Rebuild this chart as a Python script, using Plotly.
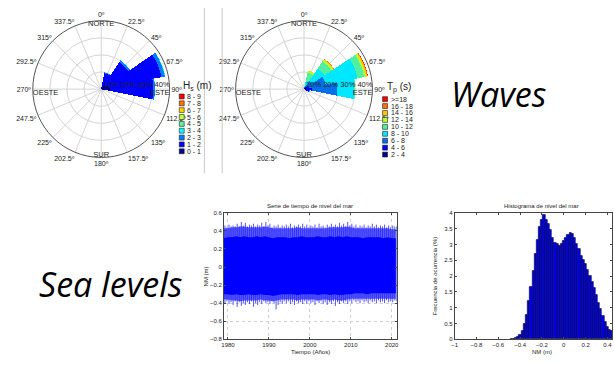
import plotly.graph_objects as go

W, H = 614, 376
def px(x): return x / W
def py(y): return 1 - y / H

FONT = "Liberation Sans"

# ---------------- Wave roses ----------------
directions = [0, 22.5, 45, 67.5, 90, 112.5]
angle_ticks = [0, 22.5, 45, 67.5, 90, 112.5, 135, 157.5, 180, 202.5, 225, 247.5, 270, 292.5, 315, 337.5]
angle_labels = ["0º", "22.5º", "45º", "67.5º", "90º", "112.5º", "135º", "157.5º", "180º",
                "202.5º", "225º", "247.5º", "270º", "292.5º", "315º", "337.5º"]
radial_ticks = [10, 20, 30, 40]
radial_labels = ["10%", "20%", "30%", "40%"]

hs_classes = ["0 - 1", "1 - 2", "2 - 3", "3 - 4", "4 - 5", "5 - 6", "6 - 7", "7 - 8", "8 - 9"]
hs_colors = ["#00008F", "#0000FF", "#0080FF", "#00FFFF", "#60F0A0", "#C0FF40", "#FFD000", "#FF7000", "#FF0000"]
hs_values = [
    [0.5, 2.0, 3.0, 4.0, 5.0, 0.8],
    [0.5, 7.5, 16.0, 32.0, 25.5, 0.5],
    [0.0, 0.5, 1.2, 2.0, 1.0, 0.0],
    [0.0, 0.0, 0.1, 0.3, 0.1, 0.0],
    [0, 0, 0, 0, 0, 0],
    [0, 0, 0, 0, 0, 0],
    [0, 0, 0, 0, 0, 0],
    [0, 0, 0, 0, 0, 0],
    [0, 0, 0, 0, 0, 0],
]

tp_classes = ["2 - 4", "4 - 6", "6 - 8", "8 - 10", "10 - 12", "12 - 14", "14 - 16", "16 - 18", ">=18"]
tp_colors = ["#00008F", "#0000FF", "#0070E8", "#00E8FF", "#50F0A0", "#B0FF30", "#FFC800", "#FF7000", "#FF0000"]
tp_values = [
    [0.0, 0.3, 0.5, 1.0, 1.5, 1.5],
    [0.0, 0.5, 1.0, 2.0, 3.0, 1.5],
    [0.2, 1.0, 4.0, 10.0, 15.0, 0.5],
    [0.5, 3.0, 9.0, 19.0, 10.0, 0.2],
    [1.0, 5.0, 5.0, 4.0, 0.5, 0.0],
    [0.5, 1.0, 1.0, 1.0, 0.0, 0.0],
    [0.0, 0.3, 0.5, 0.7, 0.0, 0.0],
    [0.0, 0.0, 0.3, 0.4, 0.0, 0.0],
    [0.0, 0.0, 0.0, 0.1, 0.0, 0.0],
]

cardinals = ["NORTE", "ESTE", "SUR", "OESTE"]

# ---------------- Sea level series ----------------
years = list(range(1979, 2022))
core_hi = [0.32, 0.33, 0.33, 0.34, 0.33, 0.34, 0.33, 0.33, 0.34, 0.33, 0.34, 0.33, 0.32, 0.33,
           0.33, 0.33, 0.32, 0.33, 0.33, 0.34, 0.33, 0.33, 0.33, 0.34, 0.33, 0.33, 0.34, 0.33,
           0.34, 0.33, 0.34, 0.33, 0.33, 0.33, 0.32, 0.33, 0.33, 0.33, 0.33, 0.32, 0.33, 0.32, 0.32]
core_lo = [-0.30, -0.30, -0.31, -0.30, -0.31, -0.31, -0.30, -0.31, -0.31, -0.30, -0.31, -0.31,
           -0.32, -0.31, -0.30, -0.30, -0.30, -0.30, -0.31, -0.30, -0.30, -0.30, -0.30, -0.31,
           -0.30, -0.30, -0.31, -0.30, -0.31, -0.31, -0.30, -0.30, -0.29, -0.29, -0.29, -0.30,
           -0.29, -0.29, -0.29, -0.29, -0.29, -0.29, -0.29]
fringe_hi = [0.43, 0.43, 0.44, 0.44, 0.45, 0.45, 0.44, 0.44, 0.44, 0.44, 0.45, 0.44, 0.43, 0.43,
             0.43, 0.43, 0.43, 0.43, 0.44, 0.43, 0.43, 0.43, 0.43, 0.43, 0.43, 0.43, 0.44, 0.44,
             0.44, 0.44, 0.45, 0.44, 0.43, 0.43, 0.43, 0.43, 0.43, 0.43, 0.43, 0.43, 0.43, 0.42, 0.42]
fringe_lo = [-0.36, -0.36, -0.37, -0.37, -0.38, -0.37, -0.37, -0.37, -0.37, -0.36, -0.37, -0.37,
             -0.38, -0.37, -0.36, -0.36, -0.36, -0.36, -0.37, -0.36, -0.36, -0.36, -0.36, -0.37,
             -0.36, -0.36, -0.37, -0.36, -0.37, -0.37, -0.36, -0.35, -0.35, -0.35, -0.35, -0.35,
             -0.35, -0.35, -0.35, -0.35, -0.35, -0.35, -0.35]
spike_start, spike_step = 1979.25, 0.5
nm_max = [0.46, 0.44, 0.47, 0.45, 0.46, 0.45, 0.48, 0.45, 0.50, 0.46,
          0.49, 0.45, 0.47, 0.46, 0.48, 0.45, 0.47, 0.46, 0.49, 0.45,
          0.50, 0.46, 0.48, 0.44, 0.46, 0.45, 0.47, 0.44, 0.46, 0.45,
          0.47, 0.45, 0.48, 0.44, 0.46, 0.45, 0.47, 0.45, 0.48, 0.45,
          0.47, 0.44, 0.46, 0.45, 0.47, 0.44, 0.48, 0.45, 0.46, 0.44,
          0.47, 0.45, 0.48, 0.45, 0.47, 0.45, 0.49, 0.46, 0.48, 0.45,
          0.50, 0.46, 0.48, 0.45, 0.47, 0.44, 0.46, 0.45, 0.47, 0.44,
          0.46, 0.45, 0.48, 0.45, 0.47, 0.44, 0.46, 0.45, 0.47, 0.44,
          0.46, 0.44, 0.46, 0.45, 0.45]
nm_min = [-0.40, -0.38, -0.41, -0.39, -0.42, -0.38, -0.44, -0.39, -0.43, -0.40,
          -0.42, -0.39, -0.41, -0.38, -0.44, -0.40, -0.42, -0.39, -0.41, -0.38,
          -0.40, -0.39, -0.41, -0.38, -0.40, -0.47, -0.42, -0.39, -0.41, -0.38,
          -0.40, -0.38, -0.41, -0.39, -0.42, -0.38, -0.40, -0.39, -0.41, -0.38,
          -0.41, -0.38, -0.40, -0.39, -0.42, -0.38, -0.40, -0.38, -0.41, -0.39,
          -0.42, -0.39, -0.41, -0.38, -0.43, -0.39, -0.41, -0.38, -0.40, -0.38,
          -0.41, -0.38, -0.40, -0.37, -0.39, -0.38, -0.40, -0.37, -0.39, -0.38,
          -0.40, -0.37, -0.39, -0.38, -0.40, -0.37, -0.39, -0.38, -0.40, -0.37,
          -0.39, -0.38, -0.39, -0.37, -0.38]
ts_xticks = [1980, 1990, 2000, 2010, 2020]
ts_yticks = [-0.8, -0.6, -0.4, -0.2, 0, 0.2, 0.4, 0.6]

# ---------------- Histogram ----------------
hist_start, hist_width = -0.48, 0.02
hist_freq = [0.01, 0.02, 0.04, 0.08, 0.15, 0.28, 0.50, 0.78, 1.22, 1.66, 2.15, 2.70, 3.14, 3.56,
             3.79, 3.93, 3.79, 3.65, 3.45, 3.20, 3.06, 3.01, 2.95, 3.02, 3.12, 3.22, 3.30, 3.36,
             3.33, 3.20, 3.02, 2.85, 2.65, 2.52, 2.40, 2.20, 2.00, 1.80, 1.62, 1.42, 1.15, 0.95,
             0.75, 0.55, 0.40, 0.30, 0.25]
hist_xticks = [-1, -0.8, -0.6, -0.4, -0.2, 0, 0.2, 0.4]
hist_yticks = [0, 0.5, 1, 1.5, 2, 2.5, 3, 3.5, 4]

fig = go.Figure()

# rose traces
for sub, classes, colors, values in [("polar", hs_classes, hs_colors, hs_values),
                                     ("polar2", tp_classes, tp_colors, tp_values)]:
    for cls, col, vals in zip(classes, colors, values):
        fig.add_trace(go.Barpolar(r=vals, theta=directions, width=[22.5] * len(directions),
                                  marker=dict(color=col, line=dict(width=0)),
                                  name=cls, subplot=sub, showlegend=False))
    fig.add_trace(go.Scatterpolar(r=radial_ticks, theta=[90] * 4, mode="text", text=radial_labels,
                                  textposition="top left", subplot=sub, showlegend=False,
                                  textfont=dict(family=FONT, size=7.5, color="#222")))
    fig.add_trace(go.Scatterpolar(r=[38.0, 38.6], theta=[0, 180], mode="text", text=[cardinals[0], cardinals[2]],
                                  textposition="middle center", subplot=sub, showlegend=False,
                                  textfont=dict(family=FONT, size=7.5, color="#222")))
    fig.add_trace(go.Scatterpolar(r=[40], theta=[90], mode="text", text=[cardinals[1]],
                                  textposition="bottom left", subplot=sub, showlegend=False,
                                  textfont=dict(family=FONT, size=7.5, color="#222")))
    fig.add_trace(go.Scatterpolar(r=[40], theta=[270], mode="text", text=[cardinals[3]],
                                  textposition="bottom right", subplot=sub, showlegend=False,
                                  textfont=dict(family=FONT, size=7.5, color="#222")))

polar_common = dict(
    bgcolor="white",
    barmode="stack",
    angularaxis=dict(rotation=90, direction="clockwise", tickmode="array", tickvals=angle_ticks,
                     ticktext=angle_labels, ticks="", showline=True, linecolor="#555", linewidth=1,
                     gridcolor="#d4d4d4", gridwidth=0.8, tickfont=dict(family=FONT, size=7, color="#222")),
    radialaxis=dict(range=[0, 40], tickvals=radial_ticks, showticklabels=False, ticks="",
                    showline=False, gridcolor="#d4d4d4", gridwidth=0.8),
)
fig.update_layout(
    polar=dict(domain=dict(x=[px(29.5), px(168.5)], y=[py(157), py(18)]), **polar_common),
    polar2=dict(domain=dict(x=[px(234), px(373)], y=[py(157), py(18)]), **polar_common),
)

# time series
fig.add_trace(go.Scatter(x=years, y=fringe_lo, mode="lines", line=dict(width=0), xaxis="x", yaxis="y",
                         showlegend=False, hoverinfo="skip"))
fig.add_trace(go.Scatter(x=years, y=fringe_hi, mode="lines", line=dict(width=0), fill="tonexty",
                         fillcolor="rgba(50,50,255,0.8)", xaxis="x", yaxis="y", showlegend=False))
sx, sy = [], []
for i, (mx, mn) in enumerate(zip(nm_max, nm_min)):
    t = spike_start + spike_step * i
    sx += [t, t, None]
    sy += [mn, mx, None]
fig.add_trace(go.Scatter(x=sx, y=sy, mode="lines", line=dict(color="rgba(40,40,255,0.8)", width=1),
                         xaxis="x", yaxis="y", showlegend=False))
fig.add_trace(go.Scatter(x=years, y=core_lo, mode="lines", line=dict(width=0), xaxis="x", yaxis="y",
                         showlegend=False))
fig.add_trace(go.Scatter(x=years, y=core_hi, mode="lines", line=dict(width=0), fill="tonexty",
                         fillcolor="#0000FF", xaxis="x", yaxis="y", showlegend=False))

# histogram
hist_x = [hist_start + hist_width * i for i in range(len(hist_freq))]
fig.add_trace(go.Bar(x=hist_x, y=hist_freq, width=hist_width, xaxis="x2", yaxis="y2",
                     marker=dict(color="#0000F0", line=dict(color="#000030", width=0.6)), showlegend=False))

axis_common = dict(showline=True, linecolor="#444", linewidth=0.8, mirror="ticks", ticks="inside",
                   ticklen=2.5, tickcolor="#444", tickfont=dict(family=FONT, size=6, color="#222"),
                   zeroline=False)
fig.update_layout(
    xaxis=dict(domain=[px(222.7), px(397.7)], range=[1979, 2021.4], tickvals=ts_xticks,
               showgrid=True, gridcolor="#cfcfcf", griddash="dot", gridwidth=0.7, anchor="y", **axis_common),
    yaxis=dict(domain=[py(341.7), py(213.3)], range=[-0.8, 0.6], tickvals=ts_yticks,
               showgrid=True, gridcolor="#cfcfcf", griddash="dot", gridwidth=0.7, anchor="x", **axis_common),
    xaxis2=dict(domain=[px(455.3), 1.0], range=[-1, 0.4415], tickvals=hist_xticks, showgrid=False,
                anchor="y2", **axis_common),
    yaxis2=dict(domain=[py(341.7), py(213.3)], range=[0, 4], tickvals=hist_yticks, showgrid=False,
                anchor="x2", **axis_common),
    bargap=0,
)

shapes = []
annotations = []

# legends for roses
def add_legend(x_sq, y_first, spacing, title, classes, colors, title_xy):
    for j, (cls, col) in enumerate(zip(classes[::-1], colors[::-1])):
        yc = y_first + spacing * j
        shapes.append(dict(type="rect", xref="paper", yref="paper", x0=px(x_sq), x1=px(x_sq + 5),
                           y0=py(yc + 2.5), y1=py(yc - 2.5), fillcolor=col, line=dict(color="#222", width=0.6)))
        annotations.append(dict(x=px(x_sq + 6), y=py(yc), text=cls, xanchor="left",
                                font=dict(family=FONT, size=7, color="#222")))
    annotations.append(dict(x=px(title_xy[0]), y=py(title_xy[1]), text=title, xanchor="left",
                            font=dict(family=FONT, size=10, color="#222")))

add_legend(177.7, 95.0, 6.96, "H<sub>s</sub> (m)", hs_classes, hs_colors, (179.5, 84))
add_legend(382.7, 97.7, 7.04, "T<sub>p</sub> (s)", tp_classes, tp_colors, (385, 86))

# separator lines
for xs in [203, 221]:
    shapes.append(dict(type="line", xref="paper", yref="paper", x0=px(xs), x1=px(xs), y0=py(5), y1=py(173),
                       line=dict(color="#c8c8c8", width=1)))

# chart titles / labels
small = dict(family=FONT, size=6, color="#222")
annotations += [
    dict(x=px(310), y=py(206), text="Serie de tiempo de nivel del mar", font=small),
    dict(x=px(310), y=py(355), text="Tiempo (Años)", font=small),
    dict(x=px(205), y=py(277.5), text="NM (m)", font=small, textangle=-90),
    dict(x=px(543), y=py(206), text="Histograma de nivel del mar", font=small),
    dict(x=px(543), y=py(355), text="NM (m)", font=small),
    dict(x=px(436), y=py(277.5), text="Frecuencia de ocurrencia (%)", font=small, textangle=-90),
    dict(x=px(500), y=py(92), text="Waves", font=dict(family="Open Sans", size=34, color="#000", style="italic")),
    dict(x=px(108), y=py(286), text="Sea levels", font=dict(family="Open Sans", size=34, color="#000", style="italic")),
]
for a in annotations:
    a.setdefault("xref", "paper")
    a.setdefault("yref", "paper")
    a.setdefault("showarrow", False)
    a.setdefault("xanchor", "center")
    a.setdefault("yanchor", "middle")

fig.update_layout(width=W, height=H, margin=dict(l=0, r=0, t=0, b=0), autosize=False,
                  paper_bgcolor="white", plot_bgcolor="white", shapes=shapes, annotations=annotations,
                  font=dict(family=FONT))

fig.write_html("out.html", config={"displayModeBar": False},
               post_script="document.body.style.margin='0px';document.body.style.overflow='hidden';")
